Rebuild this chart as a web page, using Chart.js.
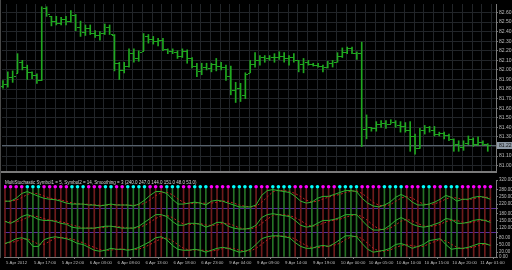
<!DOCTYPE html>
<html>
<head>
<meta charset="utf-8">
<style>
  html, body { margin: 0; padding: 0; background: #000; }
  #wrap { position: relative; width: 512px; height: 270px; overflow: hidden; background: #000; }
  #wrap canvas { position: absolute; left: 0; }
  #main { top: 0; }
  #ind { top: 176px; }
  #edge { position: absolute; left: 0; top: 0; width: 1px; height: 258px; background: #4a4a4a; }
</style>
<script src="https://cdn.jsdelivr.net/npm/chart.js@4.4.1/dist/chart.umd.min.js"></script>
</head>
<body>
<div id="wrap">
  <canvas id="main" width="512" height="176"></canvas>
  <canvas id="ind" width="512" height="94"></canvas>
  <div id="edge"></div>
</div>
<script>
// price bars, one per index (left to right)
const opens = [
  81.83,81.85,81.93,81.97,82.08,82.03,81.98,81.95,81.89,82.65,
  82.56,82.51,82.49,82.53,82.51,82.57,82.45,82.40,82.44,82.39,
  82.37,82.39,82.45,82.37,82.07,82.00,82.04,82.18,82.12,82.20,
  82.35,82.32,82.30,82.31,82.22,82.20,82.19,82.15,82.20,82.12,
  82.04,81.99,82.03,82.02,82.06,82.04,82.03,81.94,81.79,81.81,
  81.74,81.97,82.06,82.10,82.13,82.12,82.13,82.14,82.15,82.12,
  82.13,82.10,82.06,82.08,82.06,82.05,82.04,82.03,82.07,82.08,
  82.15,82.19,82.23,82.18,82.18,81.38,81.40,81.39,81.44,81.45,
  81.44,81.46,81.42,81.41,81.37,81.31,81.18,81.37,81.40,81.37,
  81.33,81.34,81.32,81.28,81.23,81.20,81.24,81.28,81.23,81.25,
  81.23];
const highs = [
  81.89,81.98,81.99,82.17,82.10,82.05,81.98,81.96,82.66,82.66,
  82.56,82.56,82.55,82.56,82.62,82.58,82.51,82.47,82.47,82.41,
  82.40,82.48,82.47,82.37,82.08,82.08,82.22,82.22,82.20,82.38,
  82.37,82.35,82.33,82.33,82.22,82.22,82.20,82.22,82.21,82.13,
  82.07,82.07,82.07,82.07,82.12,82.08,82.05,82.04,81.87,81.86,
  81.97,82.10,82.18,82.15,82.15,82.15,82.17,82.19,82.18,82.15,
  82.17,82.10,82.12,82.10,82.07,82.07,82.05,82.09,82.10,82.18,
  82.23,82.24,82.24,82.19,82.29,81.53,81.40,81.46,81.47,81.47,
  81.48,81.47,81.46,81.45,81.46,81.33,81.39,81.42,81.41,81.41,
  81.35,81.35,81.33,81.28,81.26,81.26,81.31,81.29,81.30,81.26,
  81.23];
const lows = [
  81.81,81.82,81.87,81.97,82.00,81.90,81.91,81.86,81.89,82.56,
  82.46,82.47,82.47,82.47,82.50,82.41,82.35,82.36,82.37,82.34,
  82.31,82.37,82.37,81.99,81.90,81.97,82.03,82.08,82.09,82.20,
  82.28,82.27,82.25,82.20,82.17,82.17,82.12,82.13,82.07,82.02,
  81.93,81.95,82.00,81.98,81.99,82.00,81.89,81.74,81.66,81.67,
  81.70,81.97,82.03,82.05,82.08,82.10,82.08,82.11,82.08,82.05,
  82.08,81.98,81.97,82.05,82.04,82.03,81.98,82.02,82.03,82.08,
  82.13,82.17,82.17,82.11,81.20,81.28,81.36,81.36,81.40,81.39,
  81.44,81.40,81.35,81.35,81.15,81.12,81.18,81.33,81.35,81.31,
  81.31,81.28,81.26,81.15,81.15,81.16,81.22,81.20,81.21,81.21,
  81.15];
const closes = [
  81.85,81.93,81.94,82.08,82.03,81.98,81.95,81.89,82.65,82.58,
  82.51,82.49,82.53,82.51,82.57,82.45,82.40,82.44,82.39,82.37,
  82.39,82.45,82.38,82.07,82.00,82.04,82.18,82.12,82.19,82.35,
  82.32,82.30,82.31,82.22,82.20,82.19,82.15,82.20,82.12,82.04,
  81.99,82.03,82.02,82.06,82.04,82.03,81.94,81.79,81.81,81.74,
  81.96,82.06,82.10,82.13,82.12,82.13,82.14,82.15,82.12,82.13,
  82.10,82.06,82.08,82.06,82.05,82.04,82.03,82.07,82.08,82.15,
  82.19,82.23,82.18,82.18,81.38,81.40,81.39,81.44,81.45,81.44,
  81.46,81.42,81.41,81.37,81.31,81.18,81.37,81.40,81.37,81.33,
  81.34,81.32,81.28,81.23,81.20,81.24,81.28,81.23,81.25,81.23,
  81.22];
const priceTicks = [82.6,82.5,82.4,82.3,82.2,82.1,82.0,81.9,81.8,81.7,81.6,81.5,81.4,81.3,81.2,81.1,81.0];

// MultiStochastic panel (three stacked stochastics, main + signal)
const upper = [232,232,244,264,272,262,252,244,240,238,232,224,220,220,220,216,216,212,216,220,
  216,216,216,212,220,236,256,272,272,264,240,220,220,224,228,224,216,232,236,232,
  224,216,208,208,208,216,256,276,280,276,272,268,252,232,224,228,244,252,252,260,
  268,276,276,272,244,224,212,208,216,228,248,260,248,228,216,216,220,228,240,256,
  248,232,240,240,248,252,248,240];
const upperSig = [232,232,236,247,260,266,262,253,245,241,237,231,225,221,220,219,217,215,215,216,
  217,217,216,215,216,223,237,255,267,269,259,241,227,221,224,225,223,224,228,233,
  231,224,216,211,208,211,227,249,271,277,276,272,264,251,236,228,232,241,249,255,
  260,268,273,275,264,247,227,215,212,217,231,245,252,245,231,220,217,221,229,241,
  248,245,240,237,243,247,249,247];
const middle = [148,140,152,168,176,168,156,152,152,148,140,136,124,120,120,120,120,124,128,128,
  124,120,120,120,128,144,160,176,176,168,148,132,132,140,140,136,124,132,144,144,
  128,120,116,116,120,132,164,176,180,176,172,168,152,132,124,128,140,152,152,156,
  164,176,176,176,152,128,112,112,116,132,152,164,152,136,128,124,128,136,144,160,
  156,140,140,144,152,156,152,144];
const middleSig = [148,146,147,153,165,171,167,159,153,151,147,141,133,127,121,120,120,121,124,127,
  127,124,121,120,123,131,144,160,171,173,164,149,137,135,137,139,133,131,133,140,
  139,131,121,117,117,123,139,157,173,177,176,172,164,151,136,128,131,140,148,153,
  157,165,172,176,168,152,131,117,113,120,133,149,156,151,139,129,127,129,136,147,
  153,152,145,141,145,151,153,151];
const lower = [56,64,76,80,72,44,44,72,80,84,80,76,68,56,52,40,28,24,28,36,
  32,32,28,32,40,52,64,80,84,72,48,32,28,28,32,28,20,28,36,40,
  36,28,20,24,32,52,76,84,88,88,84,80,60,44,36,36,44,48,44,56,
  72,88,88,84,56,32,20,24,28,36,52,56,48,36,44,52,68,72,76,52,
  32,36,36,40,48,56,56,48];
const lowerSig = [56,60,65,73,76,65,53,53,65,79,81,80,75,67,59,49,40,31,27,29,
  32,33,31,31,33,41,52,65,76,79,68,51,36,29,29,29,27,25,28,35,
  37,35,28,24,25,36,53,71,83,87,87,84,75,61,47,39,39,43,45,49,
  57,72,83,87,76,57,36,25,24,29,39,48,52,47,43,44,55,64,72,67,
  53,40,35,37,41,48,53,53];
// u = up (cyan dot, green line), d = down (magenta dot, red line)
const trend = "dddd uuu ddddd uuu ddd uud duu uudd duuu dduu udddd uuuu ddd uuuud dduu dddu uuud dddu uuud dduu dduu uddd ddd"
  .replace(/ /g, "").split("");
const timeLabels = ["5 Apr 2012","5 Apr 17:00","5 Apr 22:00","6 Apr 03:00","6 Apr 08:00","6 Apr 13:00",
  "6 Apr 18:00","6 Apr 23:00","9 Apr 04:00","9 Apr 09:00","9 Apr 14:00","9 Apr 19:00",
  "10 Apr 00:00","10 Apr 05:00","10 Apr 10:00","10 Apr 15:00","10 Apr 20:00","11 Apr 01:00"];
const labelEvery = 5;
const indTicks = [0,20,50,80,100,120,150,180,200,220,250,280,320];
const bandLines = [0,100,200];
const indTitle = "MultiStochastic Symbol1 = 5, Symbol2 = 14, Smoothing = 3 (240.0 247.0 144.0 151.0 48.0 53.0)";

const barColor = "#1fa81f";
const gridColor = "#222529";
const frameColor = "#7a7a7a";
const textColor = "#bdbdbd";
const dotLevel = 292;
const stickTop = 284;

Chart.defaults.font.family = "Liberation Sans";
Chart.defaults.font.size = 5;
Chart.defaults.color = textColor;

// open / close ticks on each bar
const ohlcTicks = {
  id: "ohlcTicks",
  afterDatasetsDraw(chart) {
    const { ctx, scales: { x, y } } = chart;
    ctx.save();
    ctx.fillStyle = barColor;
    opens.forEach((o, i) => {
      const px = Math.round(x.getPixelForValue(i));
      ctx.fillRect(px - 2, Math.round(y.getPixelForValue(o)), 2, 1);
      ctx.fillRect(px + 1, Math.round(y.getPixelForValue(closes[i])), 2, 1);
    });
    ctx.restore();
  }
};

// current price line + label on the axis
const lastPrice = {
  id: "lastPrice",
  beforeDatasetsDraw(chart) {
    const { ctx, chartArea: a, scales: { y } } = chart;
    const py = Math.round(y.getPixelForValue(closes[closes.length - 1])) + 0.5;
    ctx.save();
    ctx.strokeStyle = "#56616d";
    ctx.lineWidth = 1;
    ctx.beginPath();
    ctx.moveTo(a.left, py);
    ctx.lineTo(a.right, py);
    ctx.stroke();
    ctx.restore();
  },
  afterDraw(chart) {
    const { ctx, chartArea: a, scales: { y } } = chart;
    const last = closes[closes.length - 1];
    const py = Math.round(y.getPixelForValue(last));
    ctx.save();
    ctx.fillStyle = "#8f9aa6";
    ctx.fillRect(a.right + 1, py - 3, 15, 7);
    ctx.fillStyle = "#101010";
    ctx.font = "5px 'Liberation Sans'";
    ctx.textBaseline = "middle";
    ctx.fillText(last.toFixed(2), a.right + 3, py + 0.5);
    ctx.restore();
  }
};

const panelTitle = {
  id: "panelTitle",
  afterDraw(chart) {
    const { ctx, chartArea: a } = chart;
    ctx.save();
    ctx.fillStyle = "#d6d6d6";
    ctx.font = "4.5px 'Liberation Sans'";
    ctx.textBaseline = "top";
    ctx.fillText(indTitle, a.left + 1, a.top + 0.5);
    ctx.restore();
  }
};

new Chart(document.getElementById("main"), {
  type: "bar",
  data: {
    datasets: [{
      data: highs.map((h, i) => ({ x: i, y: [lows[i], h] })),
      backgroundColor: barColor,
      borderWidth: 0,
      barThickness: 1
    }]
  },
  options: {
    responsive: false,
    devicePixelRatio: 1,
    animation: false,
    events: [],
    layout: { padding: { left: 2, top: 2, right: 0, bottom: 0 } },
    plugins: { legend: { display: false }, tooltip: { enabled: false } },
    scales: {
      x: {
        type: "linear",
        min: -0.2,
        max: 101.7,
        offset: false,
        afterBuildTicks: s => {
          const t = [];
          for (let v = 1.8; v < 101.7; v += 2) t.push({ value: v });
          s.ticks = t;
        },
        afterFit: s => { s.height = 2; },
        ticks: { display: false },
        grid: { color: gridColor, drawTicks: false },
        border: { color: frameColor, width: 2 }
      },
      y: {
        position: "right",
        min: 80.9337,
        max: 82.6888,
        afterBuildTicks: s => { s.ticks = priceTicks.map(v => ({ value: v })); },
        afterFit: s => { s.width = 16; },
        ticks: { callback: v => v.toFixed(2), padding: 1, color: textColor, autoSkip: false },
        grid: { color: gridColor, tickColor: frameColor, tickLength: 2 },
        border: { color: frameColor, width: 1 }
      }
    }
  },
  plugins: [lastPrice, ohlcTicks]
});

const pts = arr => arr.map((v, j) => ({ x: j, y: v }));

new Chart(document.getElementById("ind"), {
  type: "bar",
  data: {
    datasets: [
      {
        type: "scatter",
        data: trend.map((t, j) => ({ x: j, y: dotLevel })),
        pointRadius: 1.8,
        pointBorderWidth: 0,
        pointBackgroundColor: trend.map(t => t === "u" ? "#00ffff" : "#ff00ff"),
        order: 1
      },
      { type: "line", data: pts(upper), borderColor: "#2fb52f", borderWidth: 1, pointRadius: 0, order: 2 },
      { type: "line", data: pts(upperSig), borderColor: "#c42020", borderWidth: 1, borderDash: [2, 2], pointRadius: 0, order: 3 },
      { type: "line", data: pts(middle), borderColor: "#2fb52f", borderWidth: 1, pointRadius: 0, order: 2 },
      { type: "line", data: pts(middleSig), borderColor: "#c42020", borderWidth: 1, borderDash: [2, 2], pointRadius: 0, order: 3 },
      { type: "line", data: pts(lower), borderColor: "#2fb52f", borderWidth: 1, pointRadius: 0, order: 2 },
      { type: "line", data: pts(lowerSig), borderColor: "#c42020", borderWidth: 1, borderDash: [2, 2], pointRadius: 0, order: 3 },
      {
        type: "bar",
        data: trend.map((t, j) => ({ x: j, y: [0, stickTop] })),
        backgroundColor: trend.map(t => t === "u" ? "#267226" : "#6e1c1c"),
        borderWidth: 0,
        barThickness: 1,
        order: 4
      }
    ]
  },
  options: {
    responsive: false,
    devicePixelRatio: 1,
    animation: false,
    events: [],
    layout: { padding: { left: 2, top: 1, right: 0, bottom: 0 } },
    plugins: { legend: { display: false }, tooltip: { enabled: false } },
    scales: {
      x: {
        type: "linear",
        min: -0.18,
        max: 88.0,
        offset: false,
        afterBuildTicks: s => { s.ticks = timeLabels.map((t, k) => ({ value: k * labelEvery })); },
        afterFit: s => { s.height = 13; },
        ticks: {
          callback: (v, i) => timeLabels[i],
          align: "start",
          autoSkip: false,
          maxRotation: 0,
          minRotation: 0,
          padding: 1,
          labelOffset: 1,
          color: textColor,
          font: { size: 4.3 }
        },
        grid: { drawOnChartArea: false, tickColor: frameColor, tickLength: 2 },
        border: { color: frameColor, width: 1 }
      },
      y: {
        position: "right",
        min: 0,
        max: 320,
        afterBuildTicks: s => { s.ticks = indTicks.map(v => ({ value: v })); },
        afterFit: s => { s.width = 16; },
        ticks: {
          callback: v => bandLines.includes(v) && v !== 0 ? "" : v.toFixed(2),
          padding: 1,
          color: textColor,
          autoSkip: false,
          font: { size: 4.5 }
        },
        grid: {
          color: c => bandLines.includes(c.tick.value) ? "#5a2e9a" : "rgba(0,0,0,0)",
          tickColor: frameColor,
          tickLength: 2
        },
        border: { color: frameColor, width: 1 }
      }
    }
  },
  plugins: [panelTitle]
});
</script>
</body>
</html>
